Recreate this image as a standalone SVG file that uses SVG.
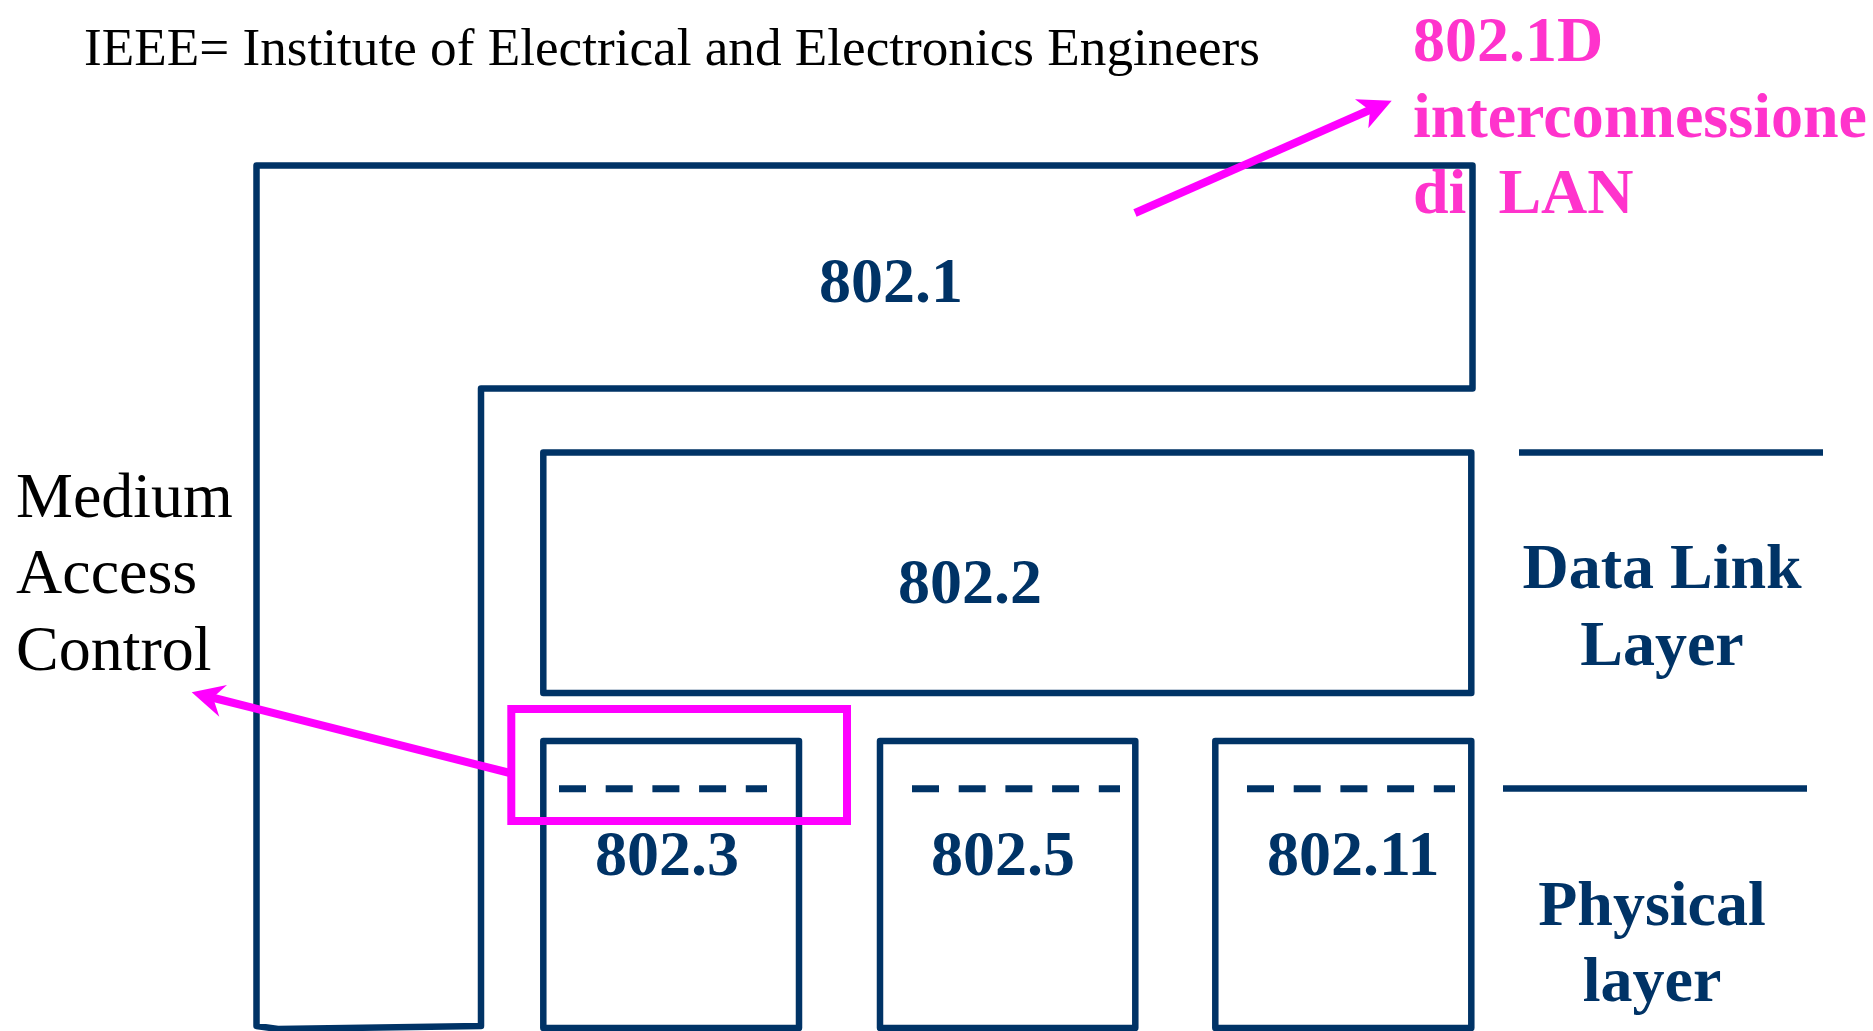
<svg xmlns="http://www.w3.org/2000/svg" width="1873" height="1031" viewBox="0 0 1873 1031">
<style>
.nv{fill:none;stroke:#003366;stroke-width:6.5;stroke-linejoin:round}
.dash{stroke:#003366;stroke-width:7;stroke-dasharray:27 19.7}
.pk{fill:none;stroke:#FF00FF;stroke-width:8}
.ah{fill:#FF00FF}
.lbl{font-family:"Liberation Serif","Times New Roman",serif;font-weight:bold;font-size:64px;fill:#003366}
.blk{font-family:"Liberation Serif","Times New Roman",serif;fill:#000000}
.pt{font-family:"Liberation Serif","Times New Roman",serif;font-weight:bold;font-size:64px;fill:#FF33CC;white-space:pre}
</style>
<rect width="1873" height="1031" fill="#ffffff"/>
<g id="title">
<text class="blk" x="84" y="65" font-size="53.2">IEEE= Institute of Electrical and Electronics Engineers</text>
</g>
<g id="n8021">
<path class="nv" d="M 481 1026 L 481 388.5 L 1472.5 388.5 L 1472.5 165.5 L 256.5 165.5 L 256.5 1026 L 278 1029 Z"/>
<text class="lbl" x="819" y="302">802.1</text>
</g>
<g id="n8022">
<rect class="nv" x="543.3" y="452.5" width="928" height="240.5"/>
<text class="lbl" x="898" y="603">802.2</text>
</g>
<g id="n8023">
<rect class="nv" x="543.3" y="741" width="255.7" height="287"/>
<line class="dash" x1="559" y1="788.7" x2="767" y2="788.7"/>
<text class="lbl" x="595" y="875">802.3</text>
</g>
<g id="n8025">
<rect class="nv" x="880" y="741" width="255.3" height="287"/>
<line class="dash" x1="912" y1="788.7" x2="1120" y2="788.7"/>
<text class="lbl" x="931" y="875">802.5</text>
</g>
<g id="n80211">
<rect class="nv" x="1215.3" y="741" width="256" height="287"/>
<line class="dash" x1="1247" y1="788.7" x2="1455" y2="788.7"/>
<text class="lbl" x="1267" y="875">802.11</text>
</g>
<g id="layers">
<line class="nv" x1="1519" y1="452.5" x2="1823" y2="452.5"/>
<line class="nv" x1="1503" y1="788.5" x2="1807" y2="788.5"/>
<text class="lbl" x="1662" y="588" text-anchor="middle">Data Link</text>
<text class="lbl" x="1662" y="665" text-anchor="middle">Layer</text>
<text class="lbl" x="1652" y="925" text-anchor="middle">Physical</text>
<text class="lbl" x="1652" y="1001" text-anchor="middle">layer</text>
</g>
<g id="mac">
<rect class="pk" x="511.3" y="709" width="335.7" height="112"/>
<text class="blk" x="16" y="517" font-size="64">Medium</text>
<text class="blk" x="16" y="593" font-size="64">Access</text>
<text class="blk" x="16" y="670" font-size="64">Control</text>
</g>
<g id="note8021D">
<text class="pt" x="1413" y="61">802.1D</text>
<text class="pt" x="1413" y="137">interconnessione</text>
<text class="pt" x="1413" y="213">di  LAN</text>
</g>
<g id="connectors">
<line class="pk" x1="510" y1="773" x2="210" y2="697"/>
<polygon class="ah" points="191.7,692.3 227,685 213,697.5 219.3,716.7"/>
<line class="pk" x1="1135" y1="213" x2="1372" y2="109"/>
<polygon class="ah" points="1391.7,100.7 1355,99.3 1370,110.5 1368.3,128.3"/>
</g>
</svg>
